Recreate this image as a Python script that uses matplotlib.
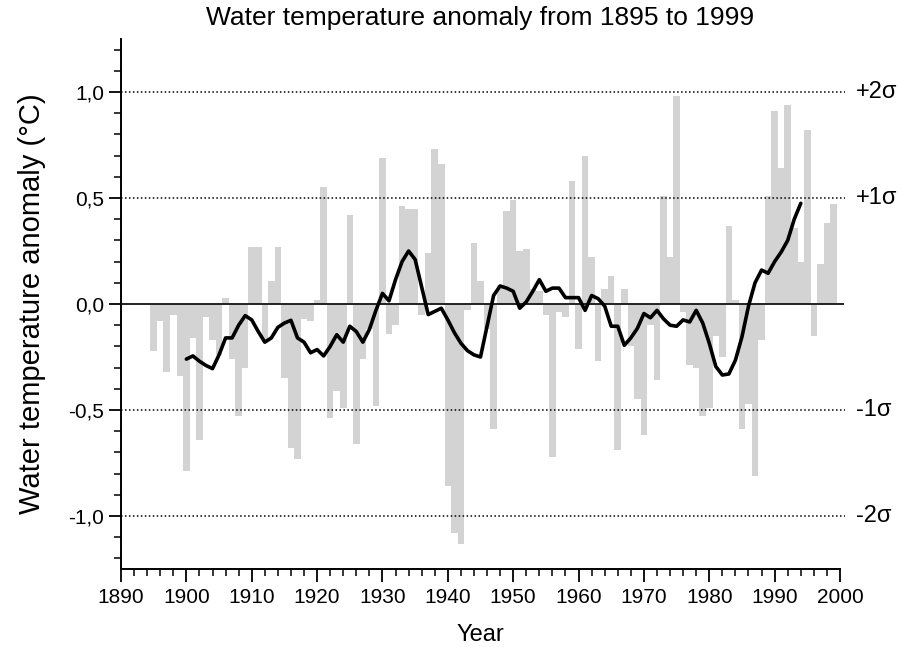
import numpy as np
import matplotlib
matplotlib.use("Agg")
import matplotlib.pyplot as plt
from matplotlib.ticker import MultipleLocator, FixedLocator, FuncFormatter

# Annual water temperature anomaly (degC), 1895-1999
years = list(range(1895, 2000))
anomaly = [
    -0.22, -0.08, -0.32, -0.05, -0.34,                                   # 1895-1899
    -0.79, -0.16, -0.64, -0.06, -0.17, -0.24, 0.03, -0.26, -0.53, -0.30,  # 1900s
    0.27, 0.27, -0.18, 0.11, 0.27, -0.35, -0.68, -0.73, -0.07, -0.08,     # 1910s
    0.02, 0.55, -0.54, -0.41, -0.49, 0.42, -0.66, -0.26, -0.12, -0.48,    # 1920s
    0.69, -0.14, -0.10, 0.46, 0.45, 0.45, -0.05, 0.24, 0.73, 0.66,        # 1930s
    -0.86, -1.08, -1.13, -0.03, 0.29, 0.11, -0.12, -0.59, 0.09, 0.44,     # 1940s
    0.49, 0.25, 0.26, 0.07, 0.06, -0.05, -0.72, -0.04, -0.06, 0.58,       # 1950s
    -0.21, 0.70, 0.22, -0.27, 0.07, 0.13, -0.69, 0.07, -0.20, -0.45,      # 1960s
    -0.62, -0.10, -0.36, 0.51, 0.22, 0.98, -0.04, -0.29, -0.30, -0.53,    # 1970s
    -0.49, -0.15, -0.25, 0.37, 0.02, -0.59, -0.47, -0.81, -0.17, 0.51,    # 1980s
    0.91, 0.64, 0.94, 0.36, 0.20, 0.82, -0.15, 0.19, 0.38, 0.47,          # 1990s
]

# Smoothed anomaly, 1900-1994
smooth_years = list(range(1900, 1995))
smooth = [
    -0.26, -0.245, -0.27, -0.29, -0.305, -0.24, -0.16, -0.16, -0.10, -0.055,
    -0.075, -0.13, -0.18, -0.16, -0.11, -0.09, -0.077, -0.16, -0.18, -0.23,
    -0.215, -0.245, -0.20, -0.145, -0.18, -0.105, -0.13, -0.18, -0.12, -0.03,
    0.05, 0.015, 0.115, 0.20, 0.25, 0.21, 0.08, -0.05, -0.035, -0.02,
    -0.075, -0.135, -0.185, -0.22, -0.24, -0.25, -0.105, 0.04, 0.085, 0.075,
    0.06, -0.02, 0.01, 0.06, 0.115, 0.06, 0.075, 0.075, 0.03, 0.03,
    0.03, -0.03, 0.04, 0.025, -0.01, -0.105, -0.105, -0.195, -0.16, -0.115,
    -0.045, -0.065, -0.03, -0.07, -0.10, -0.105, -0.075, -0.085, -0.03, -0.09,
    -0.185, -0.295, -0.335, -0.33, -0.265, -0.155, -0.01, 0.10, 0.16, 0.145,
    0.20, 0.245, 0.30, 0.40, 0.475,
]

# Standard-deviation reference levels
sigma_levels = [1.0, 0.5, -0.5, -1.0]
sigma_labels = ["+2σ", "+1σ", "-1σ", "-2σ"]

FONT = ["Liberation Sans", "DejaVu Sans"]
plt.rcParams["font.family"] = FONT

fig = plt.figure(figsize=(9.01, 6.47), dpi=100)
ax = fig.add_axes([0.1343, 0.1206, 0.798, 0.8191])

ax.bar(years, anomaly, width=1.0, color="#d3d3d3", edgecolor="none", zorder=1)

for lvl in sigma_levels:
    ax.plot([1890, 2000.8], [lvl, lvl], color="black", lw=1.1,
            linestyle=(0, (1, 1.6)), clip_on=False, zorder=2)
ax.plot([1890, 2000.5], [0, 0], color="#222222", lw=1.4, clip_on=False, zorder=2)

ax.plot(smooth_years, smooth, color="black", lw=2.6, zorder=3,
        solid_joinstyle="round", solid_capstyle="round")

for lvl, lab in zip(sigma_levels, sigma_labels):
    ax.text(2002.5, lvl, lab, fontsize=17, va="center", ha="left",
            clip_on=False)

ax.set_xlim(1890, 2000)
ax.set_ylim(-1.25, 1.25)

ax.xaxis.set_major_locator(MultipleLocator(10))
ax.xaxis.set_minor_locator(MultipleLocator(2))
ax.yaxis.set_major_locator(FixedLocator([-1.0, -0.5, 0.0, 0.5, 1.0]))
ax.yaxis.set_minor_locator(FixedLocator(np.round(np.arange(-1.2, 1.21, 0.1), 2)))
ax.yaxis.set_major_formatter(FuncFormatter(lambda v, p: f"{v:.1f}".replace(".", ",")))

for s in ("top", "right"):
    ax.spines[s].set_visible(False)
for s in ("left", "bottom"):
    ax.spines[s].set_linewidth(1.4)

ax.tick_params(axis="both", which="major", direction="out", length=9, width=1.3,
               labelsize=15)
ax.tick_params(axis="both", which="minor", direction="out", length=5, width=1.1)
ax.tick_params(axis="x", which="major", pad=5)
ax.tick_params(axis="y", which="major", pad=3)

ax.set_title("Water temperature anomaly from 1895 to 1999", fontsize=19, pad=10)
ax.set_xlabel("Year", fontsize=17, labelpad=12)
ax.set_ylabel("Water temperature anomaly (°C)", fontsize=21, labelpad=16)

fig.savefig("out.png", dpi=100)
